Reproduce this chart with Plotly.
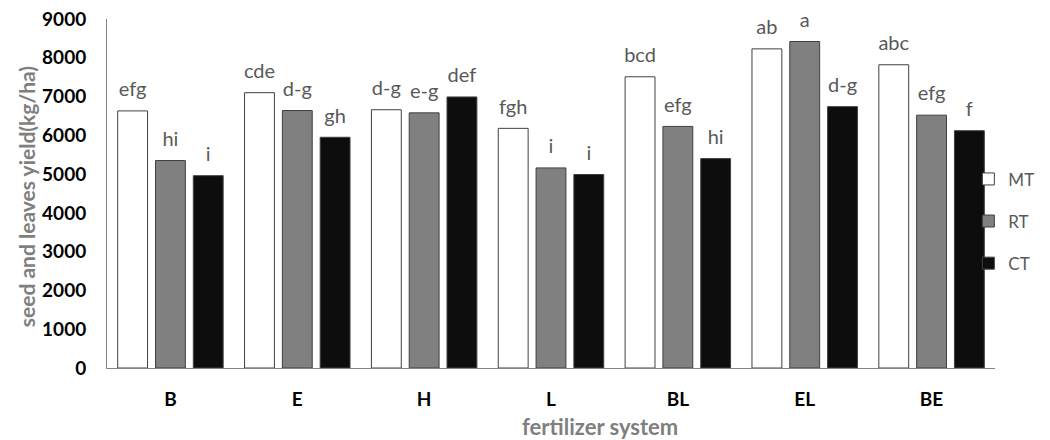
import plotly.graph_objects as go

categories = ["B", "E", "H", "L", "BL", "EL", "BE"]
series_names = ["MT", "RT", "CT"]
mt_values = [6630, 7100, 6660, 6180, 7510, 8230, 7820]
rt_values = [5350, 6640, 6580, 5160, 6230, 8420, 6520]
ct_values = [4960, 5950, 6990, 4990, 5400, 6740, 6120]
mt_letters = ["efg", "cde", "d-g", "fgh", "bcd", "ab", "abc"]
rt_letters = ["hi", "d-g", "e-g", "i", "efg", "a", "efg"]
ct_letters = ["i", "gh", "def", "i", "hi", "d-g", "f"]
y_ticks = [0, 1000, 2000, 3000, 4000, 5000, 6000, 7000, 8000, 9000]

colors = ["#ffffff", "#808080", "#0d0d0d"]
FONT = "Lato"
BARGAP = 0.106

fig = go.Figure()
for name, vals, col in zip(series_names, [mt_values, rt_values, ct_values], colors):
    fig.add_trace(go.Bar(
        name=name, x=categories, y=vals, offsetgroup=name,
        marker=dict(color=col, line=dict(color="#404040", width=1)),
        legendgroup=name,
    ))
for name, vals, letters in zip(series_names, [mt_values, rt_values, ct_values],
                               [mt_letters, rt_letters, ct_letters]):
    fig.add_trace(go.Scatter(
        x=categories, y=vals, text=letters, offsetgroup=name,
        mode="markers+text", textposition="top center",
        marker=dict(size=14, opacity=0),
        textfont=dict(family=FONT, size=20, color="#595959"),
        cliponaxis=False, showlegend=False, hoverinfo="skip",
    ))

# the page adds an 8px body margin, so the figure is drawn 8px smaller
fig.update_layout(
    width=1042, height=432,
    margin=dict(l=99, r=19, t=11, b=72),
    paper_bgcolor="white", plot_bgcolor="white",
    barmode="group", bargap=BARGAP, bargroupgap=0.21,
    scattermode="group", scattergap=BARGAP,
    font=dict(family=FONT),
    showlegend=True,
    legend=dict(x=0.97, xanchor="left", y=0.592, yanchor="top",
                bgcolor="rgba(0,0,0,0)", tracegroupgap=17,
                font=dict(family=FONT, size=17, color="#595959")),
)
fig.update_xaxes(
    automargin=False,
    showline=True, linecolor="#868686", linewidth=1, ticks="",
    tickfont=dict(family=FONT, size=19, color="black", weight="bold"),
    ticklabelstandoff=14, showgrid=False,
)
fig.update_yaxes(
    automargin=False, ticklabeloverflow="allow",
    range=[0, 9000], tickvals=y_ticks, showline=True, linecolor="#868686",
    linewidth=1, ticks="", showgrid=False, zeroline=False,
    tickfont=dict(family=FONT, size=19, color="black", weight="bold"),
    ticklabelstandoff=16,
)
fig.add_annotation(text="fertilizer system", xref="paper", yref="paper",
                   x=0.555, y=-0.169, showarrow=False, xanchor="center", yanchor="middle",
                   font=dict(family=FONT, size=22, color="#7f7f7f", weight="bold"))
fig.add_annotation(text="seed and leaves yield(kg/ha)", xref="paper", yref="paper",
                   x=-0.0898, y=0.49, showarrow=False, textangle=-90,
                   xanchor="center", yanchor="middle",
                   font=dict(family=FONT, size=21, color="#7f7f7f", weight="bold"))

fig.write_html("out.html")
